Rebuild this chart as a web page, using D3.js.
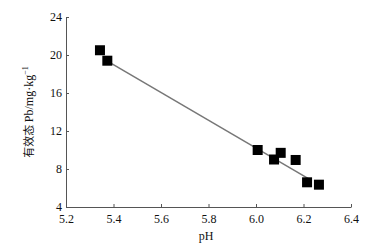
<!DOCTYPE html>
<html><head><meta charset="utf-8">
<script src="https://cdn.jsdelivr.net/npm/d3@7"></script>
<style>body{margin:0;background:#fff}svg{display:block}text{font-family:"Liberation Serif","Times New Roman",serif}</style>
</head><body><div id="c"></div>
<script>
const phValues = [5.343, 5.374, 6.007, 6.076, 6.104, 6.167, 6.215, 6.265];
const pbValues = [20.5, 19.4, 10.0, 9.0, 9.7, 8.95, 6.6, 6.35];
const fitPh = [5.367, 6.235];
const fitPb = [19.47, 6.77];
const xTicks = [5.2, 5.4, 5.6, 5.8, 6.0, 6.2, 6.4];
const yTicks = [4, 8, 12, 16, 20, 24];

const W = 392, H = 246;
const svg = d3.select("#c").append("svg").attr("width", W).attr("height", H);
const x = d3.scaleLinear().domain([5.2, 6.4]).range([66, 351]);
const y = d3.scaleLinear().domain([4, 24]).range([207, 17]);

const xAxis = svg.append("g").attr("transform", `translate(0,${y(4)})`)
  .call(d3.axisBottom(x).tickValues(xTicks).tickFormat(d3.format(".1f")).tickSize(-3).tickSizeOuter(0).tickPadding(7));
const yAxis = svg.append("g").attr("transform", `translate(${x(5.2)},0)`)
  .call(d3.axisLeft(y).tickValues(yTicks).tickSize(-3).tickSizeOuter(0).tickPadding(4));
[xAxis, yAxis].forEach(g => {
  g.selectAll("path,line").attr("stroke", "#555").attr("stroke-width", 1);
  g.selectAll("text").attr("font-size", 12).attr("fill", "#111")
   .style("font-family", '"Liberation Serif",serif');
});

svg.append("line")
  .attr("x1", x(fitPh[0])).attr("y1", y(fitPb[0]))
  .attr("x2", x(fitPh[1])).attr("y2", y(fitPb[1]))
  .attr("stroke", "#777").attr("stroke-width", 1.5);

const s = 10;
svg.append("g").selectAll("rect").data(phValues).join("rect")
  .attr("x", (d) => x(d) - s / 2)
  .attr("y", (d, i) => y(pbValues[i]) - s / 2)
  .attr("width", s).attr("height", s).attr("fill", "#000");

svg.append("text").attr("x", 206).attr("y", 240).attr("text-anchor", "middle")
  .attr("font-size", 12).attr("fill", "#111").text("pH");

const yl = svg.append("text").attr("transform", "translate(33,112) rotate(-90)")
  .attr("text-anchor", "middle").attr("font-size", 12).attr("fill", "#111");
yl.append("tspan").style("font-family", '"Noto Sans CJK SC",sans-serif').attr("font-size", 11).text("有效态 ");
yl.append("tspan").text("Pb/mg·kg");
yl.append("tspan").attr("font-size", 8).attr("dy", -5).text("−1");
</script></body></html>
